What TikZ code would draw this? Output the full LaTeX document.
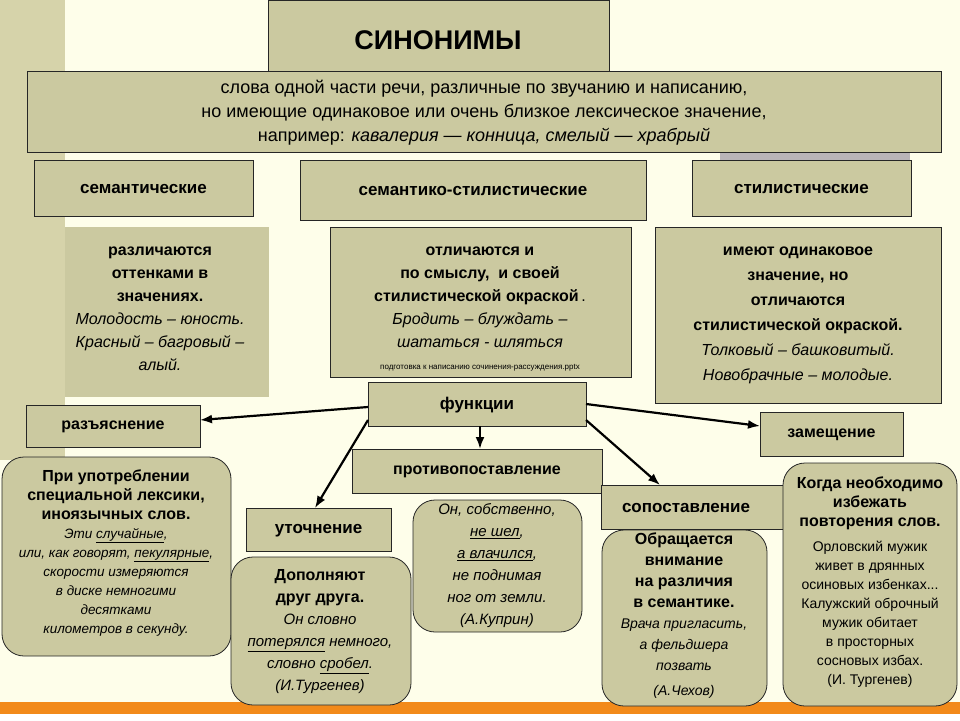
\documentclass[tikz,border=0pt]{standalone}
\usepackage{fontspec}
\setmainfont{Liberation Sans}
\usetikzlibrary{arrows.meta}
\definecolor{boxc}{HTML}{CBC9A0}
\definecolor{bgc}{HTML}{FEFEEA}
\definecolor{stripc}{HTML}{D6D3AA}
\definecolor{orangec}{HTML}{F28A1A}
\definecolor{shadc}{HTML}{B9B4B8}
\tikzset{
 bx/.style={draw=black!85,line width=0.8pt,fill=boxc,inner sep=0pt},
 rbx/.style={draw=black!85,line width=0.8pt,fill=boxc,rounded corners=22pt},
 lbl/.style={font=\bfseries\fontsize{17}{20}\selectfont,align=center},
 body/.style={align=center,font=\fontsize{16}{23}\selectfont},
 arr/.style={line width=2.2pt,-{Latex[length=12pt,width=9pt]}}
}
\newcommand{\bt}[1]{{\bfseries #1}}
\newcommand{\fsz}[2]{\fontsize{#1}{#2}\selectfont}
\newcommand{\B}[1]{{\upshape\bfseries\fsz{16}{21}#1}}
\begin{document}
\begin{tikzpicture}[x=1pt,y=-1pt]
\useasboundingbox (0,0) rectangle (960,720);
\fill[bgc] (0,0) rectangle (960,720);
\fill[stripc] (0,0) rectangle (65,460);
\fill[white] (0,714) rectangle (960,720);
\fill[orangec] (0,702) rectangle (960,714);
\fill[shadc] (720,150) rectangle (910,160);
% title
\draw[bx] (268,0) rectangle (609,72);
\node (title) at (438,40) {\bfseries\fontsize{27}{30}\selectfont СИНОНИМЫ};
\draw[bx] (27,71) rectangle (941,152);
\node[align=center,font=\fontsize{18}{24}\selectfont] (def) at (484,113) {слова одной части речи, различные по звучанию и написанию,\\но имеющие одинаковое или очень близкое лексическое значение,\\например: \textit{кавалерия — конница, смелый — храбрый}};
% types
\draw[bx] (34,160) rectangle (253,216); \node[lbl] (sem) at (143.5,189) {семантические};
\draw[bx] (300,160) rectangle (646,220); \node[lbl] (semst) at (473,191) {семантико-стилистические};
\draw[bx] (692,160) rectangle (911,216); \node[lbl] (st) at (801.5,189) {стилистические};
% descriptions
\fill[boxc] (65,227) rectangle (269,397);
\node[body] (d1) at (160,309) {\bt{различаются}\\\bt{оттенками в}\\\bt{значениях.}\\\textit{Молодость – юность.}\\\textit{Красный – багровый –}\\\textit{алый.}};
\draw[bx] (330,227) rectangle (631,377);
\node[body] (d2) at (480,297) {\bt{отличаются и}\\\bt{по смыслу, \ и своей}\\\bt{стилистической окраской}\,.\\\textit{Бродить – блуждать –}\\\textit{шататься - шляться}};
\node[font=\fontsize{8}{9}\selectfont] (fn) at (480,368) {подготовка к написанию сочинения-рассуждения.pptx};
\draw[bx] (655,227) rectangle (941,403);
\node[align=center,font=\fontsize{16}{25}\selectfont] (d3) at (798,315) {\bt{имеют одинаковое}\\\bt{значение, но}\\\bt{отличаются}\\\bt{стилистической окраской.}\\\textit{Толковый – башковитый.}\\\textit{Новобрачные – молодые.}};
% functions
\draw[bx] (368,382) rectangle (586,426); \node[lbl] (fun) at (477,405) {функции};
\draw[bx] (26,405) rectangle (200,447); \node[lbl,font=\bfseries\fontsize{16}{19}\selectfont] (raz) at (113,427) {разъяснение};
\draw[bx] (760,412) rectangle (903,456); \node[lbl,font=\bfseries\fontsize{16}{19}\selectfont] (zam) at (831.5,435) {замещение};
\draw[bx] (352,449) rectangle (602,493); \node[lbl,font=\bfseries\fontsize{16}{19}\selectfont] (pro) at (477,472) {противопоставление};
\draw[bx] (601,485) rectangle (790,529); \node[lbl] (sop) at (686,508) {сопоставление};
\draw[bx] (246,508) rectangle (391,551); \node[lbl] (uto) at (318.5,531) {уточнение};
\coordinate (f1) at (368,407); \coordinate (f2) at (586,404);
\coordinate (f3) at (368,420); \coordinate (f4) at (586,420); \coordinate (f5) at (480,426);
\coordinate (t1) at (200,420); \coordinate (t2) at (760,426);
\coordinate (t3) at (315,508); \coordinate (t4) at (660,485); \coordinate (t5) at (480,449);
\draw[arr] (f1) -- (t1);
\draw[arr] (f2) -- (t2);
\draw[arr] (f5) -- (t5);
\draw[arr] (f3) -- (t3);
\draw[arr] (f4) -- (t4);
% rounded boxes
\draw[rbx] (2,457) rectangle (231,656);
\node[align=center,font=\itshape\fsz{13.5}{19}] (r1) at (116,553) {\B{При употреблении}\\\B{специальной лексики,}\\\B{иноязычных слов.}\\Эти \underline{случайные},\\или, как говорят, \underline{пекулярные},\\скорости измеряются\\в диске немногими\\десятками\\километров в секунду.};
\draw[rbx] (231,557) rectangle (411,705);
\node[align=center,font=\itshape\fsz{15}{22}] (r2) at (320,632) {\B{Дополняют}\\\B{друг друга.}\\Он словно\\\underline{потерялся} немного,\\словно \underline{сробел}.\\(И.Тургенев)};
\draw[rbx] (413,500) rectangle (582,632);
\node[align=center,font=\itshape\fsz{15}{22}] (r3) at (497,566) {Он, собственно,\\\underline{не шел},\\\underline{а влачился},\\не поднимая\\ног от земли.\\(А.Куприн)};
\draw[rbx] (602,530) rectangle (767,706);
\node[align=center,font=\itshape\fsz{14}{21}] (r4) at (684,616) {\B{Обращается}\\\B{внимание}\\\B{на различия}\\\B{в семантике.}\\Врача пригласить,\\а фельдшера\\позвать\\[4pt](А.Чехов)};
\draw[rbx] (783,463) rectangle (957,706);
\node[align=center,font=\fsz{14}{19}] (r5) at (870,582) {\B{Когда необходимо}\\\B{избежать}\\\B{повторения слов.}\\[6pt]Орловский мужик\\живет в дрянных\\осиновых избенках...\\Калужский оброчный\\мужик обитает\\в просторных\\сосновых избах.\\(И. Тургенев)};
\end{tikzpicture}
\end{document}
